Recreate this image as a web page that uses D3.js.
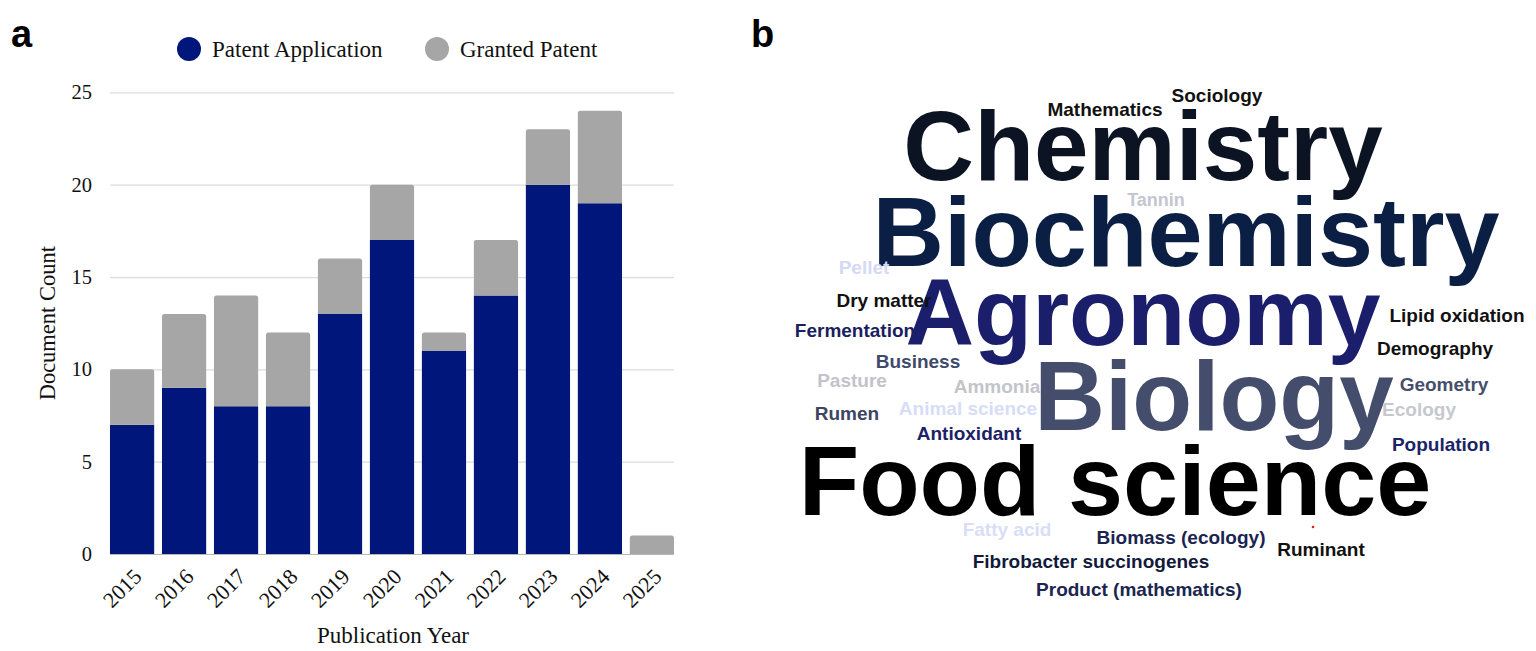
<!DOCTYPE html>
<html><head><meta charset="utf-8">
<script src="https://cdn.jsdelivr.net/npm/d3@7"></script>
<style>body{margin:0;background:#fff}svg{display:block}</style>
</head><body>
<script>
const years = ["2015","2016","2017","2018","2019","2020","2021","2022","2023","2024","2025"];
const application = [7, 9, 8, 8, 13, 17, 11, 14, 20, 19, 0];
const granted = [3, 4, 6, 4, 3, 3, 1, 3, 3, 5, 1];
const yTicks = [0, 5, 10, 15, 20, 25];
const seriesNames = ["Patent Application", "Granted Patent"];
const seriesColors = ["#00167a", "#a6a6a6"];

// word cloud
const words = ["Mathematics","Sociology","Chemistry","Tannin","Biochemistry","Pellet","Dry matter","Agronomy","Lipid oxidation","Fermentation","Demography","Business","Biology","Pasture","Ammonia","Geometry","Rumen","Animal science","Ecology","Antioxidant","Population","Food science","Fatty acid","Biomass (ecology)","Ruminant","Fibrobacter succinogenes","Product (mathematics)"];
const wordSizes = [19,19,98,18,99,19,19,95,19,19,19,19,98,19,19,19,19,19,19,19,19,99,19,19,19,19,19];
const wordColors = ["#111111","#111111","#0c1322","#c3c6ce","#0b1f45","#d3d9f6","#111111","#1b1f6b","#111111","#1a1f5e","#111111","#3f4a6b","#444e6c","#c3c3ca","#c3c4ca","#464e6d","#3d4562","#d7ddf7","#c6c8ce","#1d2166","#1a2466","#000000","#d9def6","#1b2450","#111111","#111a3a","#1a2550"];
const wordCx = [1105,1217,1143,1156,1186,864,884,1143,1457,855,1435,918,1214,852,997,1444,847,968,1419,969,1441,1115,1007,1181,1321,1091,1139];
const wordBase = [116,102,180,206,266,274,307,345,322,337,355,368,430,387,393,391,420,415,416,440,451,515,536,544,556,568,596];

const W = 1536, H = 651;
const svg = d3.select("body").append("svg").attr("width", W).attr("height", H);

// ---------- panel a ----------
const serif = "'Liberation Serif','Times New Roman',serif";
const plot = {left:110, right:674, top:92.4, bottom:554};
const x = d3.scaleBand().domain(years).range([plot.left, plot.right]).paddingInner(0.15).paddingOuter(0.0);
const y = d3.scaleLinear().domain([0, 25]).range([plot.bottom, plot.top]);

// gridlines
const grid = svg.append("g").attr("transform", `translate(${plot.left},0)`)
  .call(d3.axisLeft(y).tickValues(yTicks).tickSize(-(plot.right - plot.left)).tickFormat(""));
grid.select(".domain").remove();
grid.selectAll("line").attr("stroke", "#dcdcdc").attr("stroke-width", 1.2);
grid.selectAll(".tick").filter(d => d === 0).select("line").attr("stroke", "#b8b8b8");

// y labels
const ya = svg.append("g").attr("transform", `translate(${plot.left - 16},0)`)
  .call(d3.axisLeft(y).tickValues(yTicks).tickSize(0).tickPadding(2));
ya.select(".domain").remove();
ya.selectAll("text").attr("font-family", serif).attr("font-size", 20.5).attr("fill", "#111");

// stacked bars
const stackData = years.map((yr, i) => ({year: yr, a: application[i], g: granted[i]}));
const stack = d3.stack().keys(["a","g"])(stackData);
const r = 2.5;
function barPath(x0, w, y0, y1, rounded) {
  if (y0 - y1 <= 0) return "";
  if (!rounded) return `M${x0},${y0}V${y1}H${x0+w}V${y0}Z`;
  return `M${x0},${y0}V${y1+r}Q${x0},${y1} ${x0+r},${y1}H${x0+w-r}Q${x0+w},${y1} ${x0+w},${y1+r}V${y0}Z`;
}
stack.forEach((layer, li) => {
  svg.append("g").selectAll("path").data(layer).join("path")
    .attr("fill", seriesColors[li])
    .attr("d", (d, i) => {
      const top = li === 1 || granted[i] === 0;
      return barPath(x(d.data.year), x.bandwidth(), y(d[0]), y(d[1]), top);
    });
});

// x labels
const xa = svg.append("g").attr("transform", `translate(0,${plot.bottom})`)
  .call(d3.axisBottom(x).tickSize(0).tickPadding(0));
xa.select(".domain").remove();
xa.selectAll("text")
  .attr("font-family", serif).attr("font-size", 22).attr("fill", "#111")
  .attr("text-anchor", "end").attr("dy", 0).attr("y", 0)
  .attr("transform", "translate(11,24) rotate(-45)");

svg.append("text").attr("x", (plot.left + plot.right)/2 + 1).attr("y", 643)
  .attr("text-anchor", "middle").attr("font-family", serif).attr("font-size", 23).attr("fill", "#111")
  .text("Publication Year");
svg.append("text").attr("transform", `translate(55,${(plot.top + plot.bottom)/2}) rotate(-90)`)
  .attr("text-anchor", "middle").attr("font-family", serif).attr("font-size", 22.5).attr("fill", "#111")
  .text("Document Count");

// legend
const legX = [189, 437];
seriesNames.forEach((n, i) => {
  svg.append("circle").attr("cx", legX[i]).attr("cy", 49).attr("r", 12).attr("fill", seriesColors[i]);
  svg.append("text").attr("x", legX[i] + 23).attr("y", 57).attr("font-family", serif)
    .attr("font-size", 23).attr("fill", "#111").text(n);
});

// panel letters
svg.append("text").attr("x", 11).attr("y", 47).attr("font-family", "'Liberation Sans',Arial,sans-serif")
  .attr("font-weight", "bold").attr("font-size", 38).attr("fill", "#000").text("a");
svg.append("text").attr("x", 751).attr("y", 47).attr("font-family", "'Liberation Sans',Arial,sans-serif")
  .attr("font-weight", "bold").attr("font-size", 38).attr("fill", "#000").text("b");

// ---------- panel b ----------
const cloud = svg.append("g");
const order = d3.range(words.length).sort((a, b) => wordSizes[b] - wordSizes[a]);
cloud.selectAll("text").data(order).join("text")
  .attr("x", i => wordCx[i]).attr("y", i => wordBase[i])
  .attr("text-anchor", "middle")
  .attr("font-family", "'Liberation Sans',Arial,sans-serif").attr("font-weight", "bold")
  .attr("font-size", i => wordSizes[i]).attr("fill", i => wordColors[i])
  .text(i => words[i]);
cloud.append("circle").attr("cx", 1313).attr("cy", 527).attr("r", 1.3).attr("fill", "#d22");
</script>
</body></html>
